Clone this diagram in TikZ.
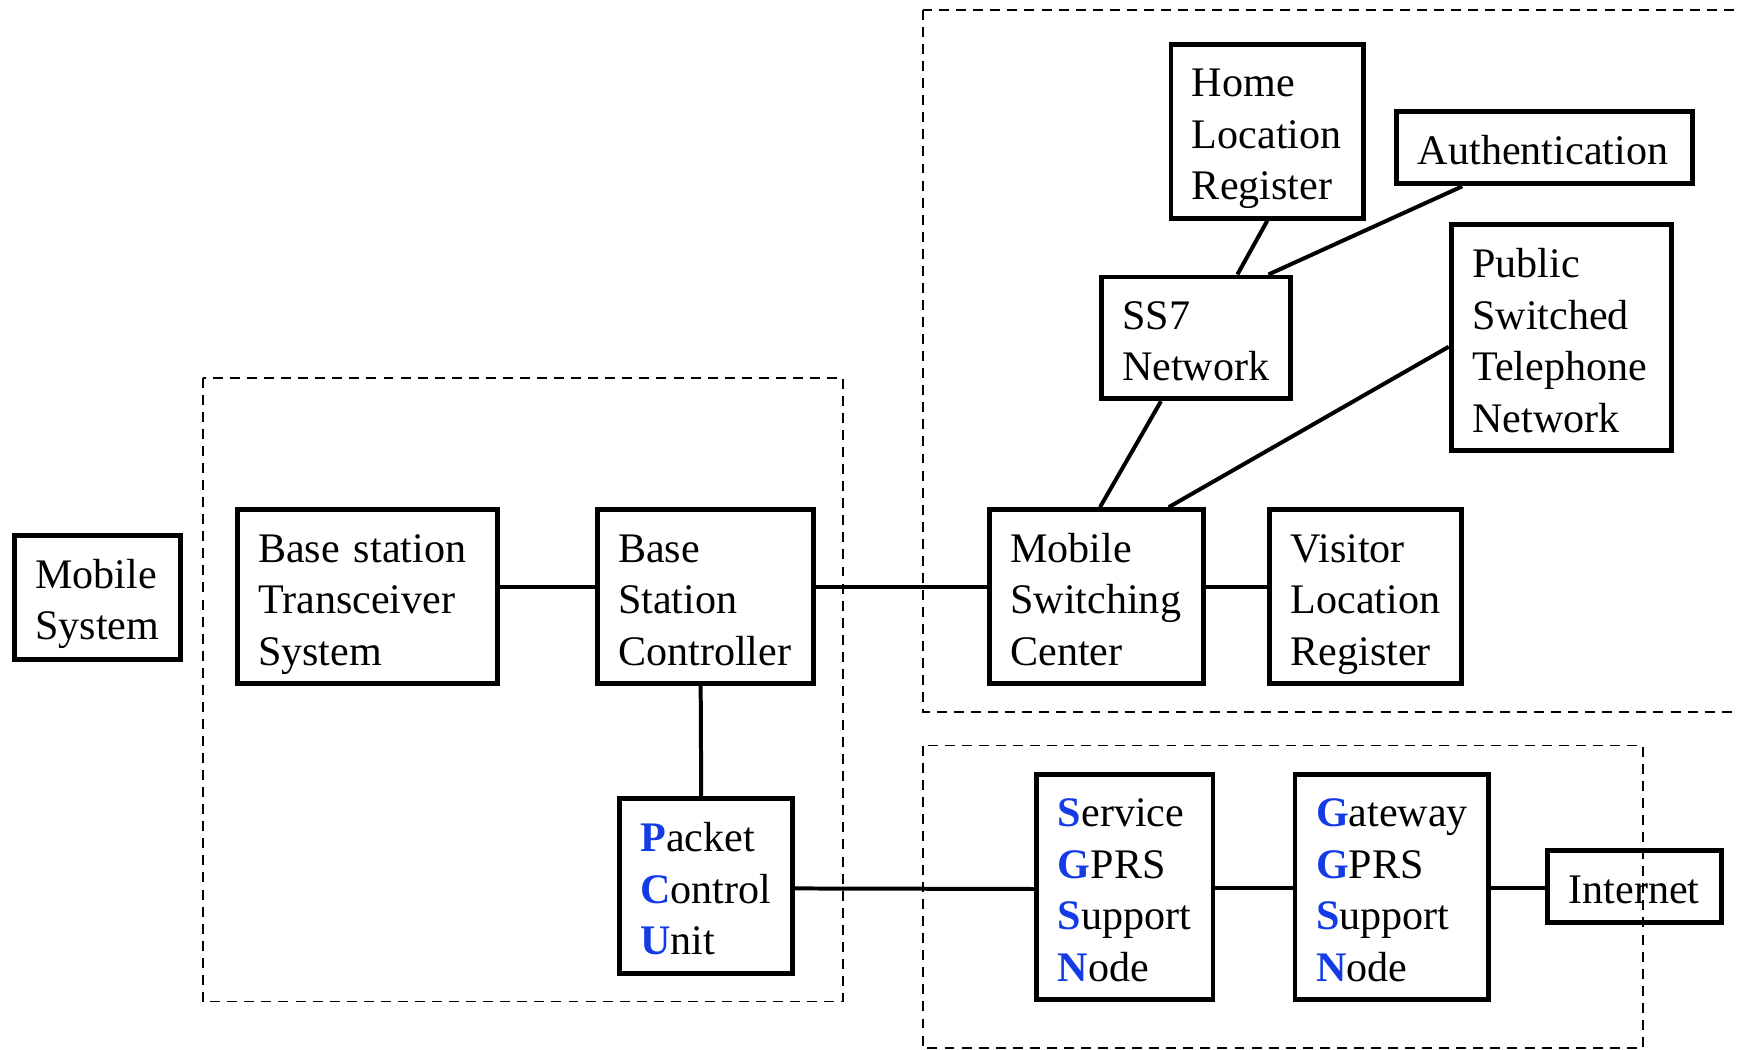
\documentclass[tikz,border=0pt]{standalone}
\usepackage{fontspec}
\setmainfont{Liberation Serif}
\definecolor{gblue}{RGB}{20,60,230}
\newcommand{\firstl}[1]{\textbf{\textcolor{gblue}{#1}}}
\tikzset{
  box/.style={draw, line width=2.2pt, rectangle, align=left, inner xsep=9.5pt, inner ysep=0pt,
    font=\fontsize{19}{23.25}\selectfont,
    execute at begin node={\hyphenpenalty=10000 \rule{0pt}{22.3pt}},
    execute at end node={\rule[-6.975pt]{0pt}{6.975pt}}},
  conn/.style={line width=1.8pt},
  grp/.style={line width=0.8pt, dash pattern=on 4.5pt off 3.2pt}
}
\begin{document}
\begin{tikzpicture}[x=0.5pt, y=-0.5pt]
\clip (0,0) rectangle (1568,947);
% groups
\draw[grp] (183,341) rectangle (761,904);
\draw[grp] (833,9) rectangle (1620,643);
\draw[grp] (833,673) rectangle (1483,946);
% nodes
\node[box, text width=56pt, minimum height=56pt] (ms) at (88,539) {Mobile\\System};
\node[box, text width=98.5pt, minimum height=78.5pt] (bts) at (331.5,538.5) {Base station\\Transceiver\\System};
\node[box, text width=78.5pt, minimum height=78.5pt] (bsc) at (636.5,538.5) {Base\\Station\\Controller};
\node[box, text width=59pt, minimum height=79pt] (pcu) at (637,800) {\firstl{P}acket\\\firstl{C}ontrol\\\firstl{U}nit};
\node[box, text width=77.5pt, minimum height=78.5pt] (msc) at (989.5,538.5) {Mobile\\Switching\\Center};
\node[box, text width=67.5pt, minimum height=78.5pt] (vlr) at (1232.5,538.5) {Visitor\\Location\\Register};
\node[box, text width=66.5pt, minimum height=55pt] (ss7) at (1079.5,305) {SS7\\Network};
\node[box, text width=68pt, minimum height=78.5pt] (hlr) at (1144,118.5) {Home\\Location\\Register};
\node[box, text width=114.5pt, minimum height=32.5pt] (auth) at (1394.5,133.5) {Authentication};
\node[box, text width=80.5pt, minimum height=102pt] (pstn) at (1409.5,305) {Public\\Switched\\Telephone\\Network};
\node[box, text width=60.5pt, minimum height=101.5pt] (sgsn) at (1015.5,800.5) {\firstl{S}ervice\\\firstl{G}PRS\\\firstl{S}upport\\\firstl{N}ode};
\node[box, text width=68.5pt, minimum height=101.5pt] (ggsn) at (1256.5,800.5) {\firstl{G}ateway\\\firstl{G}PRS\\\firstl{S}upport\\\firstl{N}ode};
\node[box, text width=59.5pt, minimum height=32.5pt] (inet) at (1475.5,800.5) {Internet};
% connectors
\draw[conn] ([yshift=4.5pt]bts.east) -- ([yshift=4.5pt]bsc.west);
\draw[conn] ([yshift=4.5pt]bsc.east) -- ([yshift=4.5pt]msc.west);
\draw[conn] ([yshift=4.5pt]msc.east) -- ([yshift=4.5pt]vlr.west);
\draw[conn] ([xshift=-2pt]bsc.south) -- ([xshift=-2pt]pcu.north);
\draw[conn] ([yshift=-1pt]pcu.east) -- ([yshift=-1pt]sgsn.west);
\draw[conn] ([yshift=-0.75pt]sgsn.east) -- ([yshift=-0.75pt]ggsn.west);
\draw[conn] ([yshift=-0.75pt]ggsn.east) -- ([yshift=-0.75pt]inet.west);
\draw[conn] ([xshift=1.75pt]msc.north) -- ([xshift=-15.75pt]ss7.south);
\draw[conn] ([xshift=32.75pt]msc.north) -- ([yshift=-4pt]pstn.west);
\draw[conn] ([xshift=18.75pt]ss7.north) -- (hlr.south);
\draw[conn] ([xshift=32.75pt]ss7.north) -- ([xshift=-37.25pt]auth.south);
\end{tikzpicture}
\end{document}
